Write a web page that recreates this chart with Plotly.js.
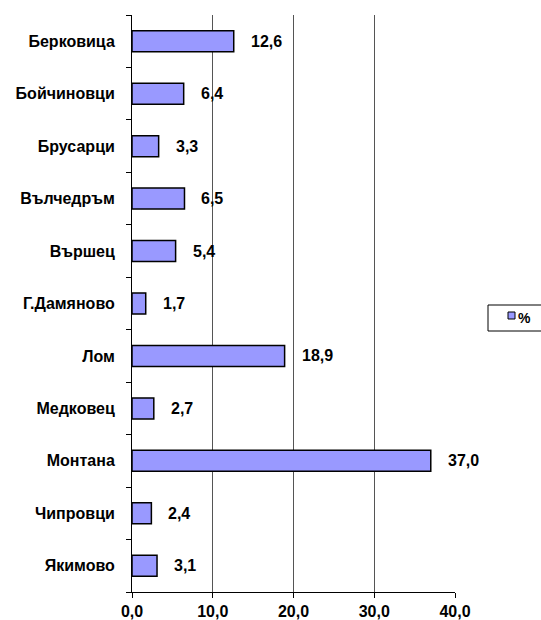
<!DOCTYPE html>
<html><head><meta charset="utf-8">
<script src="https://cdn.plot.ly/plotly-3.0.1.min.js"></script>
<style>body{margin:0;background:#fff}#chart{width:541px;height:620px}</style>
</head><body><div id="chart"></div>
<script>
const categories = ["Берковица","Бойчиновци","Брусарци","Вълчедръм","Вършец","Г.Дамяново","Лом","Медковец","Монтана","Чипровци","Якимово"];
const values = [12.6, 6.4, 3.3, 6.5, 5.4, 1.7, 18.9, 2.7, 37.0, 2.4, 3.1];
const seriesName = "%";
const xTicks = [0, 10, 20, 30, 40];
const xTickLabels = ["0,0", "10,0", "20,0", "30,0", "40,0"];

const FAM = "Arial, Liberation Sans, sans-serif";
const BAR_COLOR = "#9999FF";
const trace = {
  type: "bar", orientation: "h", name: seriesName,
  y: categories, x: values,
  marker: {color: BAR_COLOR, line: {color: "#000", width: 1.5}},
  width: 0.4, showlegend: false, hoverinfo: "none"
};
const annotations = values.map((v, i) => ({
  x: v, y: categories[i], xref: "x", yref: "y",
  text: "<b>" + v.toFixed(1).replace(".", ",") + "</b>",
  showarrow: false, xanchor: "left", xshift: 15,
  font: {family: FAM, size: 16, color: "#000"}
}));

// Legend drawn in paper coordinates (plot area: x 132..455, y 15..592)
const L = 132, T = 15, PW = 323, PH = 577;
const px = x => (x - L) / PW;
const py = y => (T + PH - y) / PH;
annotations.push({
  xref: "paper", yref: "paper", x: px(516), y: py(317.5),
  xanchor: "left", yanchor: "middle", showarrow: false,
  text: "<b>" + seriesName + "</b>", font: {family: FAM, size: 14, color: "#000"}
});
const shapes = [
  {type: "rect", xref: "paper", yref: "paper", x0: px(488), x1: px(548), y0: py(331), y1: py(305),
   line: {color: "#000", width: 1}, fillcolor: "#fff"},
  {type: "rect", xref: "paper", yref: "paper", x0: px(508), x1: px(515), y0: py(319), y1: py(312),
   line: {color: "#000", width: 1}, fillcolor: BAR_COLOR}
];

const layout = {
  width: 541, height: 620,
  margin: {l: L, r: 541 - L - PW, t: T, b: 620 - T - PH},
  paper_bgcolor: "#fff", plot_bgcolor: "#fff",
  font: {family: FAM, size: 16, color: "#000"},
  separators: ",.",
  showlegend: false,
  xaxis: {
    range: [0, 40], tickvals: xTicks, ticktext: xTickLabels.map(t => "<b>" + t + "</b>"),
    showgrid: true, gridcolor: "#555", gridwidth: 1,
    zeroline: false, showline: true, linecolor: "#000", linewidth: 1,
    ticks: "outside", ticklen: 5, tickcolor: "#000",
    tickfont: {family: FAM, size: 16, color: "#000"}, fixedrange: true
  },
  yaxis: {
    type: "category", autorange: "reversed",
    tickvals: categories, ticktext: categories.map(c => "<b>" + c + "</b>"),
    tickson: "boundaries", ticks: "outside", ticklen: 5, tickcolor: "#000",
    showgrid: false, zeroline: false, showline: true, linecolor: "#000", linewidth: 1,
    ticklabelstandoff: 13,
    tickfont: {family: FAM, size: 16, color: "#000"}
  },
  annotations: annotations,
  shapes: shapes
};
Plotly.newPlot("chart", [trace], layout, {displayModeBar: false, staticPlot: true});
</script>
</body></html>
